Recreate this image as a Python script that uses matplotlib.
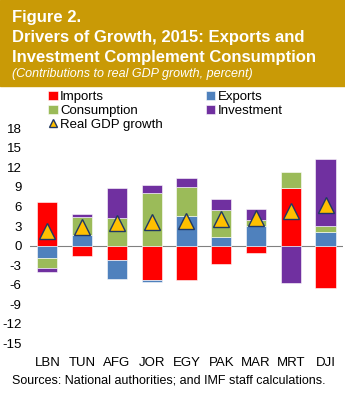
import numpy as np
import matplotlib
matplotlib.use('Agg')
import matplotlib.pyplot as plt
from matplotlib.patches import Rectangle

plt.rcParams['font.family'] = ['Liberation Sans', 'DejaVu Sans']

countries = ['LBN', 'TUN', 'AFG', 'JOR', 'EGY', 'PAK', 'MAR', 'MRT', 'DJI']
imports = [6.7, -1.6, -2.2, -5.3, -5.3, -2.85, -1.2, 8.75, -6.55]
exports = [-1.95, 1.7, -2.9, -0.2, 4.5, 1.3, 3.0, 0.0, 2.1]
consumption = [-1.45, 2.7, 4.2, 8.1, 4.5, 4.15, 0.9, 2.55, 0.9]
investment = [-0.6, 0.5, 4.55, 1.25, 1.4, 1.75, 1.7, -5.8, 10.25]
gdp_growth = [2.3, 2.9, 3.4, 3.55, 3.8, 4.05, 4.2, 5.3, 6.2]
yticks = [-15, -12, -9, -6, -3, 0, 3, 6, 9, 12, 15, 18]

series = [('Imports', imports, '#FF0000'),
          ('Exports', exports, '#4F81BD'),
          ('Consumption', consumption, '#9BBB59'),
          ('Investment', investment, '#7030A0')]

fig = plt.figure(figsize=(3.45, 3.99), dpi=100)

# header band
fig.patches.append(Rectangle((0, 0.7845), 1, 0.2155, transform=fig.transFigure,
                             color='#C99A06', zorder=0))
fig.text(0.035, 0.955, 'Figure 2.', color='white', fontsize=12, fontweight='bold',
         va='center', ha='left')
fig.text(0.035, 0.905, 'Drivers of Growth, 2015: Exports and', color='white',
         fontsize=12, fontweight='bold', va='center', ha='left')
fig.text(0.035, 0.857, 'Investment Complement Consumption', color='white',
         fontsize=12, fontweight='bold', va='center', ha='left')
fig.text(0.035, 0.815, '(Contributions to real GDP growth, percent)', color='white',
         fontsize=9, fontstyle='italic', va='center', ha='left')

ax = fig.add_axes([0.087, 0.139, 0.907, 0.540])
x = np.arange(len(countries))
pos_bottom = np.zeros(len(countries))
neg_bottom = np.zeros(len(countries))
handles = {}
for name, vals, col in series:
    vals = np.array(vals)
    bottom = np.where(vals >= 0, pos_bottom, neg_bottom)
    b = ax.bar(x, vals, 0.58, bottom=bottom, color=col, edgecolor='white',
               linewidth=0.4, zorder=2, label=name)
    handles[name] = b
    pos_bottom = pos_bottom + np.where(vals >= 0, vals, 0)
    neg_bottom = neg_bottom + np.where(vals < 0, vals, 0)

tri, = ax.plot(x, gdp_growth, linestyle='none', marker='^', markersize=11,
               markerfacecolor='#FFC000', markeredgecolor='#1F3864',
               markeredgewidth=1.0, zorder=3, label='Real GDP growth')

ax.axhline(0, color='#808080', linewidth=0.8, zorder=1)
ax.set_ylim(-15, 18)
ax.set_xlim(-0.5, len(countries) - 0.5)
ax.set_yticks(yticks)
ax.set_yticklabels([str(t) for t in yticks], fontsize=9.5)
ax.set_xticks(x)
ax.set_xticklabels(countries, fontsize=9.5)
ax.tick_params(axis='both', length=0)
ax.tick_params(axis='y', pad=6)
ax.tick_params(axis='x', pad=10)
for s in ax.spines.values():
    s.set_visible(False)

leg_h = [handles['Imports'], handles['Consumption'], tri,
         handles['Exports'], handles['Investment']]
leg_l = ['Imports', 'Consumption', 'Real GDP growth', 'Exports', 'Investment']
fig.legend(leg_h, leg_l, loc='upper left', bbox_to_anchor=(0.14, 0.772),
           ncol=2, frameon=False, fontsize=9.5, handlelength=0.7, handleheight=0.7,
           handletextpad=0.2, labelspacing=0.12, columnspacing=3.25, borderpad=0,
           borderaxespad=0, markerscale=0.55)

fig.text(0.035, 0.047, 'Sources: National authorities; and IMF staff calculations.',
         fontsize=9, va='center', ha='left')

fig.savefig('out.png', dpi=100)
